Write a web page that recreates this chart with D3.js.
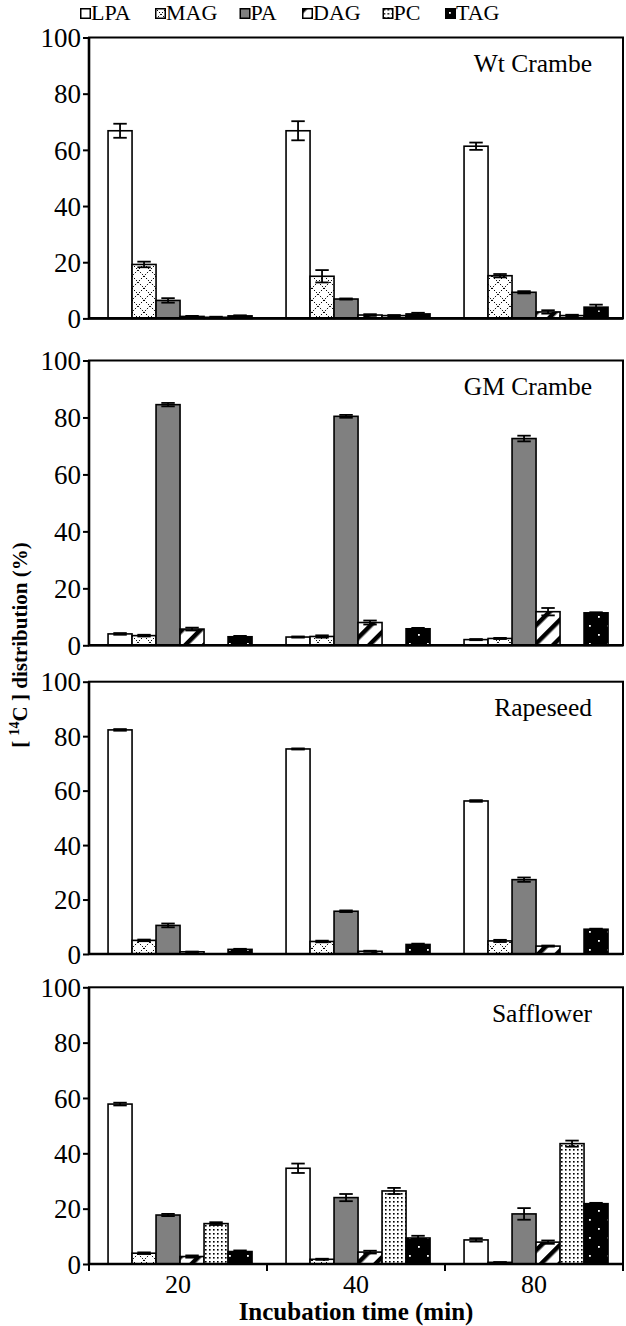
<!DOCTYPE html>
<html>
<head>
<meta charset="utf-8">
<script src="https://cdn.jsdelivr.net/npm/d3@7"></script>
<style>
  html, body { margin: 0; padding: 0; background: #fff; }
  text { font-family: "Liberation Serif", "Times New Roman", serif; fill: #000; }
</style>
</head>
<body>
<script>
// ---------- data ----------
const times = ["20", "40", "80"];
const lipids = ["LPA", "MAG", "PA", "DAG", "PC", "TAG"];
const panelNames = ["Wt Crambe", "GM Crambe", "Rapeseed", "Safflower"];
const yTicks = [0, 20, 40, 60, 80, 100];

// rows = lipids (LPA, MAG, PA, DAG, PC, TAG), columns = times (20, 40, 80)
const wtCrambe = [
  [66.8, 66.8, 61.3],
  [19.2, 15.0, 15.2],
  [6.4, 6.9, 9.3],
  [0.7, 1.2, 2.3],
  [0.4, 1.0, 1.0],
  [0.9, 1.6, 4.0]
];
const wtCrambeErr = [
  [2.5, 3.4, 1.3],
  [1.0, 2.2, 0.6],
  [0.8, 0.2, 0.4],
  [0.2, 0.3, 0.6],
  [0.2, 0.2, 0.3],
  [0.2, 0.4, 0.9]
];
const gmCrambe = [
  [4.0, 2.9, 2.0],
  [3.4, 3.1, 2.4],
  [84.5, 80.4, 72.6],
  [5.7, 8.0, 11.8],
  [0, 0, 0],
  [3.0, 5.8, 11.4]
];
const gmCrambeErr = [
  [0.3, 0.2, 0.2],
  [0.3, 0.4, 0.2],
  [0.6, 0.5, 1.0],
  [0.5, 0.7, 1.3],
  [0, 0, 0],
  [0.3, 0.3, 0.2]
];
const rapeseed = [
  [82.3, 75.3, 56.2],
  [5.0, 4.6, 4.8],
  [10.5, 15.7, 27.3],
  [0.8, 1.0, 2.9],
  [0, 0, 0],
  [1.7, 3.5, 9.1]
];
const rapeseedErr = [
  [0.3, 0.2, 0.3],
  [0.3, 0.3, 0.4],
  [0.7, 0.3, 0.8],
  [0.1, 0.2, 0.2],
  [0, 0, 0],
  [0.2, 0.3, 0.2]
];
const safflower = [
  [57.8, 34.6, 8.7],
  [3.9, 1.7, 0.6],
  [17.7, 24.0, 18.1],
  [2.7, 4.3, 7.9],
  [14.6, 26.4, 43.5],
  [4.5, 9.4, 21.8]
];
const safflowerErr = [
  [0.5, 1.7, 0.6],
  [0.3, 0.2, 0.1],
  [0.4, 1.3, 2.1],
  [0.4, 0.5, 0.6],
  [0.5, 1.1, 1.1],
  [0.4, 0.8, 0.3]
];
const panelValues = [wtCrambe, gmCrambe, rapeseed, safflower];
const panelErrors = [wtCrambeErr, gmCrambeErr, rapeseedErr, safflowerErr];

// ---------- layout ----------
const W = 626, H = 1326;
const plotLeft = 89, plotRight = 623;
const panelTop = [37.5, 360.5, 681.7, 987.3];
const panelBottom = [318.4, 645.3, 954, 1264];

const svg = d3.select("body").append("svg")
  .attr("width", W).attr("height", H);

// ---------- patterns ----------
const defs = svg.append("defs");
// MAG: dotted cross-hatch
const pMag = defs.append("pattern").attr("id", "pMAG")
  .attr("patternUnits", "userSpaceOnUse").attr("width", 12).attr("height", 12);
pMag.append("rect").attr("width", 12).attr("height", 12).attr("fill", "#fff");
pMag.append("path").attr("d", "M0,0L12,12M12,0L0,12")
  .attr("stroke", "#000").attr("stroke-width", 1).attr("stroke-dasharray", "1.4,1.4");
// DAG: wide diagonal black stripes
const pDag = defs.append("pattern").attr("id", "pDAG")
  .attr("patternUnits", "userSpaceOnUse").attr("width", 13).attr("height", 13)
  .attr("patternTransform", "rotate(45)");
pDag.append("rect").attr("width", 13).attr("height", 13).attr("fill", "#fff");
pDag.append("rect").attr("width", 4.5).attr("height", 13).attr("fill", "#000");
// PC: dense black dots
const pPc = defs.append("pattern").attr("id", "pPC")
  .attr("patternUnits", "userSpaceOnUse").attr("width", 4).attr("height", 4);
pPc.append("rect").attr("width", 4).attr("height", 4).attr("fill", "#fff");
pPc.append("rect").attr("x", 1).attr("y", 1).attr("width", 1.6).attr("height", 1.6).attr("fill", "#000");
// TAG: black with sparse white dots
const pTag = defs.append("pattern").attr("id", "pTAG")
  .attr("patternUnits", "userSpaceOnUse").attr("width", 18).attr("height", 18);
pTag.append("rect").attr("width", 18).attr("height", 18).attr("fill", "#000");
pTag.append("rect").attr("x", 4).attr("y", 4).attr("width", 1.8).attr("height", 1.8).attr("fill", "#fff");
pTag.append("rect").attr("x", 13).attr("y", 13).attr("width", 1.8).attr("height", 1.8).attr("fill", "#fff");

const fillOf = {
  LPA: "#ffffff",
  MAG: "url(#pMAG)",
  PA: "#808080",
  DAG: "url(#pDAG)",
  PC: "url(#pPC)",
  TAG: "url(#pTAG)"
};

// ---------- scales ----------
const x0 = d3.scaleBand().domain(times).range([plotLeft, plotRight]);
const step = x0.bandwidth();
const x1 = d3.scaleBand().domain(lipids).range([step * 0.107, step * 0.916]);

// ---------- legend ----------
const legendX = [80, 155, 239.5, 302, 382.5, 445];
const legend = svg.append("g");
lipids.forEach((name, i) => {
  const g = legend.append("g").attr("transform", `translate(${legendX[i]},8)`);
  g.append("rect").attr("x", 0.75).attr("y", 0.75).attr("width", 9.5).attr("height", 9.5)
    .attr("fill", fillOf[name]).attr("stroke", "#000").attr("stroke-width", 1.5);
  g.append("text").attr("x", 11).attr("y", 11.5)
    .attr("font-size", 22).text(name);
});

// ---------- panels ----------
panelNames.forEach((pname, p) => {
  const y = d3.scaleLinear().domain([0, 100]).range([panelBottom[p], panelTop[p]]);
  const g = svg.append("g");

  // frame (top/right)
  g.append("rect")
    .attr("x", plotLeft).attr("y", y(100))
    .attr("width", plotRight - plotLeft).attr("height", y(0) - y(100))
    .attr("fill", "none").attr("stroke", "#000").attr("stroke-width", 2);

  // bars
  const vals = panelValues[p], errs = panelErrors[p];
  const recs = [];
  lipids.forEach((lip, li) => {
    times.forEach((t, ti) => {
      recs.push({ lip, t, v: vals[li][ti], e: errs[li][ti] });
    });
  });
  const shown = recs.filter(d => d.v > 0);

  g.selectAll("rect.bar").data(shown).join("rect")
    .attr("class", "bar")
    .attr("x", d => x0(d.t) + x1(d.lip))
    .attr("y", d => y(d.v))
    .attr("width", x1.bandwidth())
    .attr("height", d => y(0) - y(d.v))
    .attr("fill", d => fillOf[d.lip])
    .attr("stroke", "#000").attr("stroke-width", 1.6);

  // error bars
  const cap = x1.bandwidth() * 0.28;
  const eg = g.selectAll("g.err").data(shown.filter(d => d.e > 0)).join("g").attr("class", "err")
    .attr("stroke", "#000").attr("stroke-width", 1.8);
  eg.append("line")
    .attr("x1", d => x0(d.t) + x1(d.lip) + x1.bandwidth() / 2)
    .attr("x2", d => x0(d.t) + x1(d.lip) + x1.bandwidth() / 2)
    .attr("y1", d => y(d.v + d.e)).attr("y2", d => y(Math.max(0, d.v - d.e)));
  eg.append("line")
    .attr("x1", d => x0(d.t) + x1(d.lip) + x1.bandwidth() / 2 - cap)
    .attr("x2", d => x0(d.t) + x1(d.lip) + x1.bandwidth() / 2 + cap)
    .attr("y1", d => y(d.v + d.e)).attr("y2", d => y(d.v + d.e));
  eg.append("line")
    .attr("x1", d => x0(d.t) + x1(d.lip) + x1.bandwidth() / 2 - cap)
    .attr("x2", d => x0(d.t) + x1(d.lip) + x1.bandwidth() / 2 + cap)
    .attr("y1", d => y(Math.max(0, d.v - d.e))).attr("y2", d => y(Math.max(0, d.v - d.e)));

  // y axis
  const ya = g.append("g").attr("transform", `translate(${plotLeft},0)`)
    .call(d3.axisLeft(y).tickValues(yTicks).tickSize(6).tickPadding(2).tickFormat(d3.format("d")));
  ya.select(".domain").attr("stroke", "#000").attr("stroke-width", 2.6)
    .attr("d", `M0,${y(100)}V${y(0)}`);
  ya.selectAll(".tick line").attr("stroke", "#000").attr("stroke-width", 2);
  ya.selectAll(".tick text").attr("font-size", 27).attr("font-family", "Liberation Serif").attr("dy", "0.34em");

  // bottom axis line
  g.append("line").attr("x1", plotLeft).attr("x2", plotRight)
    .attr("y1", y(0)).attr("y2", y(0))
    .attr("stroke", "#000").attr("stroke-width", 2.6);

  // panel title
  g.append("text").attr("x", 592).attr("y", y(100) + 34.5)
    .attr("text-anchor", "end").attr("font-size", 25.5).text(pname);

  if (p === panelNames.length - 1) {
    const xa = g.append("g").attr("transform", `translate(0,${y(0)})`)
      .call(d3.axisBottom(x0).tickSize(0).tickPadding(11));
    xa.select(".domain").remove();
    xa.selectAll(".tick text").attr("font-size", 26).attr("font-family", "Liberation Serif").attr("dy", "0.71em");
    // tick marks at category boundaries
    g.selectAll("line.xt").data(times.slice(1)).join("line").attr("class", "xt")
      .attr("x1", d => x0(d)).attr("x2", d => x0(d))
      .attr("y1", y(0)).attr("y2", y(0) + 7)
      .attr("stroke", "#000").attr("stroke-width", 2);
    g.selectAll("line.xe").data([plotLeft, plotRight]).join("line").attr("class", "xe")
      .attr("x1", d => d).attr("x2", d => d)
      .attr("y1", y(0)).attr("y2", y(0) + 7)
      .attr("stroke", "#000").attr("stroke-width", 2);
  }
});

// axis titles
svg.append("text")
  .attr("x", 356).attr("y", 1320)
  .attr("text-anchor", "middle").attr("font-size", 25).attr("font-weight", "bold")
  .text("Incubation time (min)");

const yt = svg.append("text")
  .attr("transform", "translate(27,645) rotate(-90)")
  .attr("text-anchor", "middle").attr("font-size", 21).attr("font-weight", "bold");
yt.append("tspan").text("[ ");
yt.append("tspan").attr("font-size", 14).attr("dy", -8).text("14");
yt.append("tspan").attr("dy", 8).text("C ] distribution (%)");
</script>
</body>
</html>
